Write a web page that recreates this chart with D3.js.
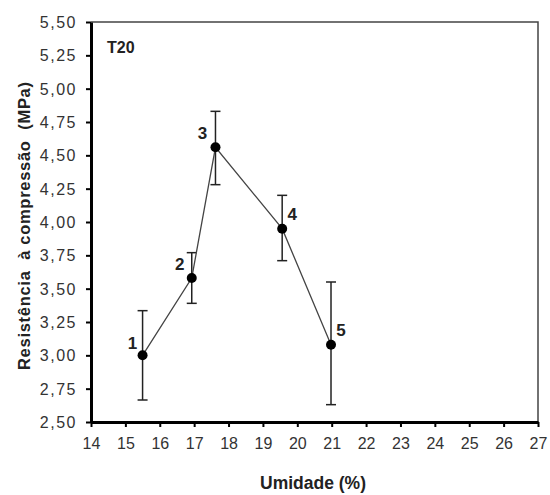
<!DOCTYPE html>
<html><head><meta charset="utf-8">
<script src="https://cdn.jsdelivr.net/npm/d3@7"></script>
<style>body{margin:0;background:#fff}svg{display:block}text{font-family:"Liberation Sans",Arial,sans-serif}</style>
</head><body><svg id="c" width="550" height="495"></svg>
<script>
const labels = ["1","2","3","4","5"];
const moisture = [15.5, 16.93, 17.62, 19.56, 20.98];
const strength = [3.00, 3.58, 4.56, 3.95, 3.08];
const errUp = [0.335, 0.19, 0.27, 0.25, 0.47];
const errDown = [0.335, 0.19, 0.28, 0.24, 0.45];
const xTicks = d3.range(14, 28, 1);
const yTicks = d3.range(2.5, 5.51, 0.25);
const seriesName = "T20";

const svg = d3.select("#c");
const L = 91, R = 538, T = 22, B = 422;
const x = d3.scaleLinear().domain([14, 27]).range([L, R]);
const y = d3.scaleLinear().domain([2.5, 5.5]).range([B, T]);
const fmt = v => v.toFixed(2).replace(".", ",");

svg.append("path").attr("d", `M${L},${T}H${R}V${B}`).attr("fill","none").attr("stroke","#444").attr("stroke-width",1.5);

const xa = svg.append("g").attr("transform",`translate(0,${B})`)
  .call(d3.axisBottom(x).tickValues(xTicks).tickFormat(d3.format("d")).tickSize(5).tickSizeOuter(0));
const ya = svg.append("g").attr("transform",`translate(${L},0)`)
  .call(d3.axisLeft(y).tickValues(yTicks).tickFormat(fmt).tickSize(5).tickSizeOuter(0));
[xa, ya].forEach(a => {
  a.select(".domain").attr("stroke","#000").attr("stroke-width",3);
  a.selectAll(".tick line").attr("stroke","#000").attr("stroke-width",2);
  a.selectAll(".tick text").attr("font-size",16).attr("fill","#333").attr("font-family","'Liberation Sans',Arial,sans-serif");
});
xa.selectAll(".tick text").attr("dy","0").attr("y",27);
ya.selectAll(".tick text").attr("x",-14).attr("dy","0.35em").attr("letter-spacing","1.5px");

const data = moisture.map((m,i)=>({m, s:strength[i], up:errUp[i], dn:errDown[i], lab:labels[i]}));

const eb = svg.append("g").attr("stroke","#222").attr("stroke-width",1.5);
data.forEach(d=>{
  const cx = x(d.m);
  eb.append("line").attr("x1",cx).attr("x2",cx).attr("y1",y(d.s+d.up)).attr("y2",y(d.s-d.dn));
  eb.append("line").attr("x1",cx-5).attr("x2",cx+5).attr("y1",y(d.s+d.up)).attr("y2",y(d.s+d.up));
  eb.append("line").attr("x1",cx-5).attr("x2",cx+5).attr("y1",y(d.s-d.dn)).attr("y2",y(d.s-d.dn));
});

svg.append("path").datum(data)
  .attr("d", d3.line().x(d=>x(d.m)).y(d=>y(d.s)))
  .attr("fill","none").attr("stroke","#444").attr("stroke-width",1.3);

svg.append("g").selectAll("circle").data(data).join("circle")
  .attr("cx",d=>x(d.m)).attr("cy",d=>y(d.s)).attr("r",5).attr("fill","#000");

const offs = [[-10,-6],[-12,-8],[-13,-8],[10,-9],[10,-9]];
svg.append("g").selectAll("text").data(data).join("text")
  .attr("x",(d,i)=>x(d.m)+offs[i][0]).attr("y",(d,i)=>y(d.s)+offs[i][1])
  .attr("text-anchor","middle").attr("font-size",17).attr("font-weight","bold").attr("fill","#222")
  .text(d=>d.lab);

svg.append("text").attr("x",107).attr("y",53).attr("font-size",16).attr("font-weight","bold").attr("fill","#222").text(seriesName);

svg.append("text").attr("x",313).attr("y",489).attr("text-anchor","middle").attr("font-size",17.5).attr("font-weight","bold").attr("fill","#222").text("Umidade (%)");
svg.append("text").attr("transform","translate(29.5,226) rotate(-90)").attr("text-anchor","middle")
  .attr("font-size",16.5).attr("font-weight","bold").attr("fill","#222")
  .attr("textLength",288).attr("lengthAdjust","spacing")
  .attr("xml:space","preserve").style("white-space","pre").text("Resistência  à compressão  (MPa)");
</script></body></html>
